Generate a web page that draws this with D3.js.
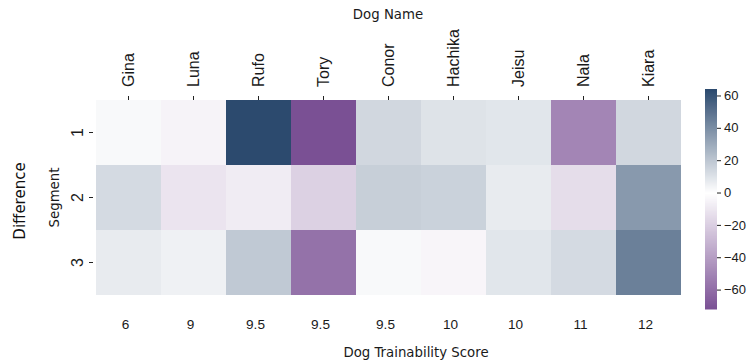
<!DOCTYPE html>
<html>
<head>
<meta charset="utf-8">
<script src="https://cdn.jsdelivr.net/npm/d3@7"></script>
<style>
  html, body { margin: 0; padding: 0; background: #fff; }
  svg { display: block; font-family: "DejaVu Sans", sans-serif; }
  .axis text { fill: #1a1a1a; }
  .axis line { stroke: #222; }
</style>
</head>
<body>
<svg id="chart" width="754" height="362"></svg>
<script>
// Heatmap of per-segment differences for each dog
const dogNames = ["Gina", "Luna", "Rufo", "Tory", "Conor", "Hachika", "Jeisu", "Nala", "Kiara"];
const trainabilityScores = ["6", "9", "9.5", "9.5", "9.5", "10", "10", "11", "12"];
const segments = ["1", "2", "3"];
const segment1 = [2, -5, 64, -72, 14, 10, 9, -50, 14];
const segment2 = [13, -11, -8, -19, 17, 16, 7, -14, 36];
const segment3 = [7, 5, 19, -58, 2, -4, 9, 13, 45];
const colorbarTicks = [60, 40, 20, 0, -20, -40, -60];

const rowsOfValues = [segment1, segment2, segment3];

const svg = d3.select("#chart");
const plot = { left: 96, right: 681, top: 100, bottom: 295 };

const x = d3.scaleBand().domain(d3.range(dogNames.length)).range([plot.left, plot.right]);
const y = d3.scaleBand().domain(segments).range([plot.top, plot.bottom]);

const allValues = rowsOfValues.flat();
const [vmin, vmax] = d3.extent(allValues);

const color = d3.scaleLinear()
  .domain([vmin, 0, vmax])
  .range(["#7a5094", "#ffffff", "#2c4a6e"])
  .interpolate(d3.interpolateRgb);

// cells
const cells = [];
rowsOfValues.forEach((row, r) => row.forEach((v, c) => cells.push({ seg: segments[r], col: c, value: v })));

svg.append("g")
  .selectAll("rect")
  .data(cells)
  .join("rect")
  .attr("x", d => x(d.col))
  .attr("y", d => y(d.seg))
  .attr("width", x.bandwidth())
  .attr("height", y.bandwidth())
  .attr("fill", d => color(d.value))
  .attr("shape-rendering", "crispEdges");

// top axis: dog names, rotated
const topAxis = svg.append("g")
  .attr("class", "axis")
  .attr("transform", `translate(0,${plot.top})`)
  .call(d3.axisTop(x).tickSize(4).tickFormat(i => dogNames[i]));
topAxis.select(".domain").remove();
topAxis.selectAll("text")
  .attr("transform", "rotate(-90)")
  .attr("x", 13)
  .attr("y", 0)
  .attr("dy", "0.36em")
  .attr("text-anchor", "start")
  .style("font-size", "16px");

// bottom labels: trainability scores
const bottomAxis = svg.append("g")
  .attr("class", "axis")
  .attr("transform", `translate(-3,${plot.bottom})`)
  .call(d3.axisBottom(x).tickSize(0).tickPadding(24).tickFormat(i => trainabilityScores[i]));
bottomAxis.select(".domain").remove();
bottomAxis.selectAll("text").style("font-size", "13.6px");

// left axis: segments, rotated
const leftAxis = svg.append("g")
  .attr("class", "axis")
  .attr("transform", `translate(${plot.left - 3},0)`)
  .call(d3.axisLeft(y).tickSize(4));
leftAxis.select(".domain").remove();
leftAxis.selectAll("text")
  .attr("transform", "rotate(-90)")
  .attr("x", 0)
  .attr("y", -10)
  .attr("dy", 0)
  .attr("text-anchor", "middle")
  .style("font-size", "16px");

// axis titles
svg.append("text")
  .attr("x", 388).attr("y", 18.5)
  .attr("text-anchor", "middle")
  .attr("fill", "#1a1a1a")
  .style("font-size", "13.3px")
  .text("Dog Name");

svg.append("text")
  .attr("x", 416).attr("y", 357)
  .attr("text-anchor", "middle")
  .attr("fill", "#1a1a1a")
  .style("font-size", "13.3px")
  .text("Dog Trainability Score");

svg.append("text")
  .attr("transform", "translate(59,197.5) rotate(-90)")
  .attr("text-anchor", "middle")
  .attr("fill", "#1a1a1a")
  .style("font-size", "13.3px")
  .text("Segment");

svg.append("text")
  .attr("transform", "translate(25,201) rotate(-90)")
  .attr("text-anchor", "middle")
  .attr("fill", "#111")
  .style("font-size", "15px")
  .text("Difference");

// colorbar
const cb = { x: 705, width: 12, top: 89, bottom: 309 };
const cbScale = d3.scaleLinear().domain([vmin, vmax]).range([cb.bottom, cb.top]);
const steps = 220;
const cbStops = d3.range(steps).map(i => vmin + (vmax - vmin) * (i + 0.5) / steps);
svg.append("g")
  .selectAll("rect")
  .data(cbStops)
  .join("rect")
  .attr("x", cb.x)
  .attr("width", cb.width)
  .attr("y", d => cbScale(d + (vmax - vmin) / steps / 2))
  .attr("height", (cb.bottom - cb.top) / steps + 0.5)
  .attr("fill", d => color(d));

const cbAxis = svg.append("g")
  .attr("class", "axis")
  .attr("transform", `translate(${cb.x + cb.width},0)`)
  .call(d3.axisRight(cbScale).tickValues(colorbarTicks).tickSize(4).tickPadding(3)
    .tickFormat(d => d < 0 ? "\u2212" + Math.abs(d) : String(d)));
cbAxis.select(".domain").remove();
cbAxis.selectAll("text").style("font-size", "13px");
</script>
</body>
</html>
